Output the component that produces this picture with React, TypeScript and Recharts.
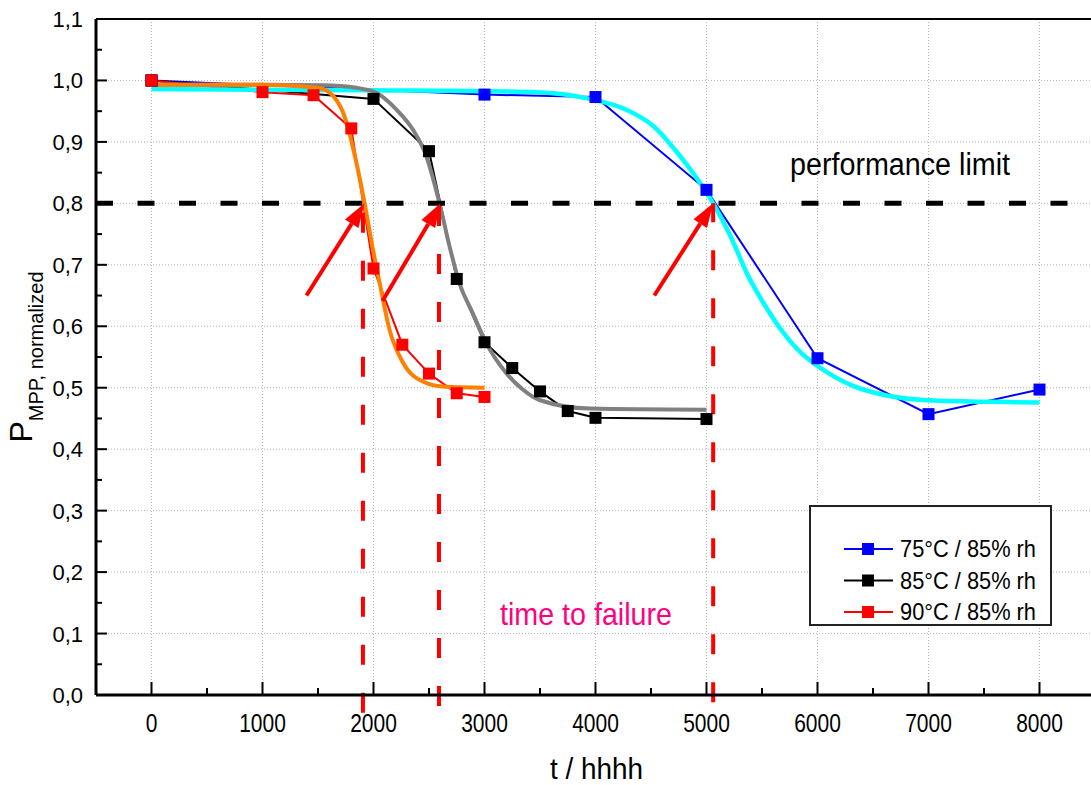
import { LineChart, Line, XAxis, YAxis, CartesianGrid, ReferenceLine, Legend, Label } from 'recharts'

const FONT = '"Liberation Sans", Arial, sans-serif'

// measured series (t in hours, normalized P_MPP)
const BLUE_T = [0, 3000, 4000, 5000, 6000, 7000, 8000]
const BLUE_V = [1.0, 0.977, 0.973, 0.822, 0.548, 0.457, 0.497]

const BLACK_T = [0, 2000, 2500, 2750, 3000, 3250, 3500, 3750, 4000, 5000]
const BLACK_V = [1.0, 0.97, 0.885, 0.677, 0.574, 0.532, 0.494, 0.462, 0.451, 0.449]

const RED_T = [0, 1000, 1460, 1800, 2000, 2260, 2500, 2750, 3000]
const RED_V = [1.0, 0.981, 0.976, 0.922, 0.694, 0.57, 0.523, 0.491, 0.485]

// fitted curves
const CYAN_T = [0, 2000, 3480, 3950, 4270, 4520, 4740, 4900, 5060, 5215, 5375, 5530, 5690, 5850, 6005, 6320, 6635, 6950, 7580, 8000]
const CYAN_V = [0.986, 0.984, 0.981, 0.97, 0.953, 0.926, 0.882, 0.844, 0.8, 0.747, 0.682, 0.633, 0.59, 0.557, 0.535, 0.503, 0.487, 0.48, 0.477, 0.476]

const GRAY_T = [0, 1000, 1540, 1845, 2025, 2205, 2355, 2475, 2595, 2685, 2775, 2895, 3015, 3195, 3345, 3495, 3950, 5000]
const GRAY_V = [0.993, 0.993, 0.992, 0.988, 0.98, 0.953, 0.92, 0.877, 0.8, 0.73, 0.67, 0.621, 0.573, 0.524, 0.497, 0.48, 0.466, 0.464]

const ORANGE_T = [0, 1000, 1500, 1640, 1750, 1840, 1920, 1995, 2055, 2145, 2265, 2445, 2620, 3000]
const ORANGE_V = [0.993, 0.993, 0.988, 0.974, 0.936, 0.871, 0.8, 0.725, 0.671, 0.594, 0.541, 0.51, 0.502, 0.5]

// axis ticks
const X_TICKS = [-500, 0, 500, 1000, 1500, 2000, 2500, 3000, 3500, 4000, 4500, 5000, 5500, 6000, 6500, 7000, 7500, 8000]
const X_GRID = [0, 1000, 2000, 3000, 4000, 5000, 6000, 7000, 8000]
const Y_TICKS = [0, 0.05, 0.1, 0.15, 0.2, 0.25, 0.3, 0.35, 0.4, 0.45, 0.5, 0.55, 0.6, 0.65, 0.7, 0.75, 0.8, 0.85, 0.9, 0.95, 1.0, 1.05, 1.1]
const Y_GRID = [0.1, 0.2, 0.3, 0.4, 0.5, 0.6, 0.7, 0.8, 0.9, 1.0, 1.1]

// annotations
const LIMIT = 0.8
const ARROW_TAIL_T = [1396, 2081, 4530]
const ARROW_TAIL_V = [0.65, 0.641, 0.65]
const ARROW_TIP_T = [1919, 2604, 5060]
const FAIL_T = [1905, 2590, 5060]
const FAIL_BOTTOM = [-0.029, -0.018, -0.012]

const pts = (ts: number[], vs: number[]) => ts.map((t, i) => ({ t, v: vs[i] }))

const blue = pts(BLUE_T, BLUE_V)
const black = pts(BLACK_T, BLACK_V)
const red = pts(RED_T, RED_V)
const cyan = pts(CYAN_T, CYAN_V)
const gray = pts(GRAY_T, GRAY_V)
const orange = pts(ORANGE_T, ORANGE_V)

const squareDot = (color: string) => (p: any) => (
  <rect key={p.index} x={p.cx - 6} y={p.cy - 6} width={12} height={12} fill={color} />
)

function XTick({ x, y, payload }: any) {
  const major = payload.value % 1000 === 0
  return (
    <g>
      <line x1={x} x2={x} y1={y} y2={y - (major ? 13 : 7)} stroke="#000" strokeWidth={2} />
      {major && (
        <text transform={`translate(${x},${y + 37}) scale(0.84,1)`} textAnchor="middle" fontSize={25} fontFamily={FONT} fill="#000">
          {payload.value}
        </text>
      )}
    </g>
  )
}

function YTick({ x, y, payload }: any) {
  const major = Math.round(payload.value * 100) % 10 === 0
  return (
    <g>
      <line x1={x} x2={x + (major ? 11 : 6)} y1={y} y2={y} stroke="#000" strokeWidth={2} />
      {major && (
        <text x={x - 13} y={y + 8} textAnchor="end" fontSize={22} fontFamily={FONT} fill="#000">
          {payload.value.toFixed(1).replace('.', ',')}
        </text>
      )}
    </g>
  )
}

function Arrow({ x1, y1, x2, y2 }: any) {
  const a = Math.atan2(y2 - y1, x2 - x1)
  const L = 24
  const W = 8
  const bx = x2 - L * Math.cos(a)
  const by = y2 - L * Math.sin(a)
  const nx = -Math.sin(a) * W
  const ny = Math.cos(a) * W
  return (
    <g>
      <line x1={x1} y1={y1} x2={bx} y2={by} stroke="#ff0000" strokeWidth={4} />
      <polygon points={`${x2},${y2} ${bx + nx},${by + ny} ${bx - nx},${by - ny}`} fill="#ff0000" />
    </g>
  )
}

function LegendBox({ payload }: any) {
  const items = (payload || []).filter((p: any) => p.type !== 'none' && p.value)
  return (
    <svg width={243} height={121} style={{ display: 'block' }}>
      <rect x={1} y={1} width={241} height={119} fill="#fff" stroke="#222" strokeWidth={2} />
      {items.map((p: any, i: number) => {
        const cy = 44 + i * 31.5
        return (
          <g key={p.value}>
            <line x1={35} x2={84} y1={cy} y2={cy} stroke={p.color} strokeWidth={2} />
            <rect x={53} y={cy - 6} width={12} height={12} fill={p.color} />
            <text x={91} y={cy + 8} fontSize={24} fontFamily={FONT} textLength={136} lengthAdjust="spacingAndGlyphs" fill="#000">
              {p.value}
            </text>
          </g>
        )
      })}
    </svg>
  )
}

export default function App() {
  return (
    <div style={{ position: 'absolute', left: 0, top: 0, background: '#fff' }}>
      <LineChart width={1091} height={785} margin={{ top: 19, right: 0, bottom: 0, left: 0 }}>
        <CartesianGrid stroke="#b4b4b4" strokeDasharray="1 2" verticalValues={X_GRID} horizontalValues={Y_GRID} />
        <XAxis
          dataKey="t"
          type="number"
          domain={[-500, 8464]}
          allowDataOverflow
          ticks={X_TICKS}
          interval={0}
          height={90}
          tickSize={0}
          tickMargin={0}
          tickLine={false}
          tick={XTick}
          axisLine={{ stroke: '#000', strokeWidth: 3 }}
        >
          <Label
            content={({ viewBox }: any) => (
              <text x={viewBox.x + viewBox.width / 2 + 3} y={viewBox.y + 84} textAnchor="middle" fontSize={30} fontFamily={FONT} textLength={93} lengthAdjust="spacingAndGlyphs" fill="#000">
                t / hhhh
              </text>
            )}
          />
        </XAxis>
        <YAxis
          type="number"
          domain={[0, 1.1]}
          allowDataOverflow
          ticks={Y_TICKS}
          interval={0}
          width={96}
          tickSize={0}
          tickMargin={0}
          tickLine={false}
          tick={YTick}
          axisLine={{ stroke: '#000', strokeWidth: 3 }}
        >
          <Label
            content={({ viewBox }: any) => (
              <text transform={`translate(32,${viewBox.y + viewBox.height / 2}) rotate(-90)`} textAnchor="middle" fontSize={32} fontFamily={FONT} fill="#000">
                P
                <tspan dy={11} fontSize={20}>MPP, normalized</tspan>
              </text>
            )}
          />
        </YAxis>

        <ReferenceLine y={1.1} stroke="#000" strokeWidth={2} />

        <Line data={blue} dataKey="v" name="75°C / 85% rh" stroke="#0000ff" strokeWidth={2} dot={squareDot('#0000ff')} activeDot={false} isAnimationActive={false} />
        <Line data={black} dataKey="v" name="85°C / 85% rh" stroke="#000000" strokeWidth={2} dot={squareDot('#000000')} activeDot={false} isAnimationActive={false} />
        <Line data={red} dataKey="v" name="90°C / 85% rh" stroke="#ff0000" strokeWidth={2} dot={squareDot('#ff0000')} activeDot={false} isAnimationActive={false} />
        <Line data={cyan} dataKey="v" type="monotone" stroke="#00ffff" strokeWidth={4.5} dot={false} activeDot={false} legendType="none" isAnimationActive={false} />
        <Line data={gray} dataKey="v" type="monotone" stroke="#808080" strokeWidth={4} dot={false} activeDot={false} legendType="none" isAnimationActive={false} />
        <Line data={orange} dataKey="v" type="monotone" stroke="#ff8000" strokeWidth={4} dot={false} activeDot={false} legendType="none" isAnimationActive={false} />

        <ReferenceLine y={LIMIT} stroke="#000" strokeWidth={5} strokeDasharray="17 24.5">
          <Label
            content={({ viewBox }: any) => (
              <text x={viewBox.x + 694} y={viewBox.y - 28} fontSize={31} fontFamily={FONT} textLength={220} lengthAdjust="spacingAndGlyphs" fill="#000">
                performance limit
              </text>
            )}
          />
        </ReferenceLine>

        {FAIL_T.map((t, i) => (
          <ReferenceLine
            key={'f' + i}
            segment={[{ x: t, y: FAIL_BOTTOM[i] }, { x: t, y: LIMIT }]}
            ifOverflow="visible"
            stroke="#ff0000"
            strokeWidth={4}
            strokeDasharray="20 28"
          >
            {i === 1 && (
              <Label
                content={({ viewBox }: any) => (
                  <text x={viewBox.x + 61} y={625} fontSize={32} fontFamily={FONT} textLength={172} lengthAdjust="spacingAndGlyphs" fill="#ff0080">
                    time to failure
                  </text>
                )}
              />
            )}
          </ReferenceLine>
        ))}

        {ARROW_TIP_T.map((t, i) => (
          <ReferenceLine
            key={'a' + i}
            segment={[{ x: ARROW_TAIL_T[i], y: ARROW_TAIL_V[i] }, { x: t, y: LIMIT }]}
            shape={Arrow}
          />
        ))}

        <Legend
          layout="vertical"
          align="center"
          verticalAlign="middle"
          content={LegendBox}
          wrapperStyle={{ left: 809, top: 505, width: 243, height: 121 }}
        />
      </LineChart>
    </div>
  )
}
